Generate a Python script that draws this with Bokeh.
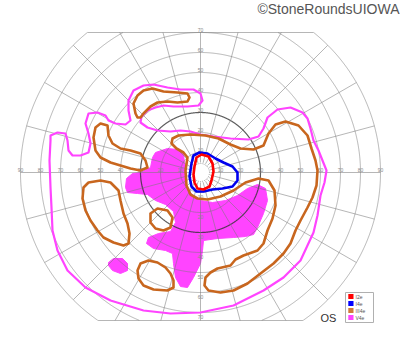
import numpy as np
from bokeh.plotting import figure
from bokeh.models import Range1d, Label
from bokeh.embed import file_html
from bokeh.resources import INLINE
from bokeh.core.properties import value

# ---------------- data (degrees: horizontal, vertical eccentricity) ----------------
ring_degrees = [10, 20, 30, 40, 50, 60, 70, 80, 90]
vert_labels = [10, 20, 30, 40, 50, 60, 70]
meridian_step = 15
field_top = 70
field_bottom = -74

legend_names = ["I2e", "I4e", "III4e", "V4e"]
legend_colors = ["#ff0000", "#0000ff", "#d07a3a", "#ff44ff"]

# I2e isopter
i2e_x = [-3, -2, 0.5, 4, 6, 6.5, 5.5, 4.5, 1.5, -1.5, -3, -3.5]
i2e_y = [3, 7.5, 9, 8, 4.5, 0.5, -4, -7, -8.5, -8, -5, -1]

# I4e isopter
i4e_x = [-4.5, -3.5, -0.5, 3.5, 7.5, 11.5, 16, 18.5, 18.5, 16, 11, 6, 1.5, -2, -4.5, -5.5]
i4e_y = [4.5, 8.5, 10, 9.5, 7, 5, 3, 0, -4, -7, -8, -8.5, -9.5, -9.5, -7, -2]

# III4e isopters
iii4e_main_x = [-6.5, -7.5, -7, -5, -1.5, 3.5, 10, 16.5, 22.5, 29, 34, 37, 37.5, 36, 33.5, 31.5, 28.5,
                21.5, 17.5, 15, 8.5, 5, 2.5, 2, 4, 10, 16.5, 23.5, 30, 36.5, 41.5, 45, 47.5, 50, 53.5,
                56, 58, 58.5, 57.5, 55.5, 53.5, 49, 42.5, 37.5, 34, 31.5, 26.5, 20, 15, 9, 2.5, -5,
                -11, -14, -14.5, -12, -8.5]
iii4e_main_y = [7.5, 1, -6.5, -11, -13, -13.5, -12, -9, -5, -3, -4, -9, -16.5, -23, -29, -35.5, -39,
                -41.5, -43.5, -46.5, -48, -50, -52.5, -56.5, -59, -60, -59, -55.5, -50.5, -45.5, -40.5,
                -35.5, -29, -24, -17.5, -12.5, -6.5, 1, 6, 12, 18.5, 23.5, 25.5, 24, 19.5, 13.5, 11.5,
                12, 14, 17, 18.5, 19, 18.5, 17, 14.5, 12, 10]
iii4e_top_x = [-32.5, -33.5, -31.5, -28.5, -24, -18.5, -11.5, -6.5, -5.5, -6.5, -11.5, -16.5, -21.5,
               -25, -28.5, -30, -31.5]
iii4e_top_y = [29.5, 34.5, 38.5, 41, 42, 40.5, 40, 39.5, 37.5, 35.5, 35, 35.5, 35, 33, 29.5, 27.5, 27.5]
iii4e_upleft_x = [-52.5, -50, -46.5, -46, -44, -40, -35, -30, -27.5, -26.5, -30, -35, -40, -45, -50,
                  -52.5, -53.5]
iii4e_upleft_y = [22.5, 24.5, 23.5, 18.5, 14.5, 12, 11, 9.5, 6, 2.5, 1, 2, 3.5, 5, 7.5, 11, 17.5]
iii4e_lowleft_x = [-58.5, -56, -50, -45, -41, -40, -38.5, -36.5, -35.5, -36, -38.5, -43.5, -48.5,
                   -51.5, -55, -57.5, -59]
iii4e_lowleft_y = [-7.5, -5, -4, -5, -9, -14, -20.5, -25.5, -30.5, -35.5, -36.5, -35, -32.5, -29, -24,
                   -19, -13]
iii4e_small_x = [-25, -21.5, -16.5, -14, -15, -18.5, -22.5, -25]
iii4e_small_y = [-20.5, -18, -19, -22.5, -27.5, -29, -28, -25]
iii4e_bottom_x = [-31.5, -30, -26, -21.5, -17.5, -15, -13.5, -13.5, -16.5, -23.5, -28.5, -31]
iii4e_bottom_y = [-49, -45.5, -44, -45, -47.5, -50.5, -54, -57.5, -59, -58.5, -56.5, -53]

# V4e isopter
v4e_x = [-74, -74.5, -75, -75.5, -75, -75, -71.5, -67.5, -66.5, -66, -64, -60, -56, -55, -56, -57.5,
         -56, -51.5, -47.5, -46, -42.5, -37.5, -35, -36, -36, -33.5, -28.5, -23.5, -16.5, -10, -3.5,
         0, 1, -1, -6.5, -13.5, -18.5, -22.5, -26.5, -29.5, -30, -26.5, -21.5, -15, -10, -5, 0, 6.5,
         15, 24, 29, 31.5, 33.5, 38.5, 45, 51, 53.5, 55, 56.5, 59, 61, 63, 62, 60, 58.5, 56.5, 50,
         41.5, 31.5, 16.5, 0, -15, -28.5, -45, -57.5, -66.5, -71.5]
v4e_y = [-29, -17.5, -7.5, 6, 16, 18.5, 20, 19.5, 16, 11, 8.5, 8.5, 10, 14.5, 19.5, 24.5, 29.5, 30,
         28.5, 26, 24.5, 24, 26, 31, 36, 41, 43.5, 44, 42.5, 41.5, 41.5, 39.5, 36, 33.5, 33, 33, 33.5,
         32.5, 31, 28, 25, 22.5, 21, 20.5, 21, 20.5, 19, 18, 17, 16.5, 18, 22, 27.5, 31.5, 32.5, 30,
         27, 22, 16, 11, 6, 1, -5, -11.5, -21.5, -30, -44, -52.5, -59, -66.5, -70, -70.5, -69, -64,
         -57.5, -49, -39]

# V4e scotomas (filled)
v4e_scot_x = [-22.5, -16.5, -11.5, -8.5, -8, -8, -7, -4, 0, 6, 12.5, 18.5, 23.5, 28.5, 32.5, 33.5,
              31.5, 28.5, 26.5, 22.5, 16.5, 8.5, 1.5, 1, 0, -3.5, -6.5, -10, -12.5, -13.5, -14, -17.5,
              -23.5, -27, -26, -21, -15, -12.5, -13.5, -17.5, -22.5, -26.5, -31.5, -36.5, -37.5, -37,
              -34, -30, -25, -24]
v4e_scot_y = [10, 12, 11.5, 9.5, 4.5, -1.5, -7, -11.5, -14, -15, -14, -11.5, -8, -6, -8, -14, -20.5,
              -27.5, -31, -32, -32.5, -33, -34, -39, -45.5, -52.5, -57.5, -57, -52.5, -45.5, -40.5,
              -39, -38, -35.5, -32.5, -30.5, -29.5, -25, -19.5, -16, -14, -11, -10.5, -10, -7.5, -3,
              -0.5, 0, 2.5, 7.5]
v4e_blob_x = [-46, -43.5, -39, -36.5, -36.5, -40, -44, -46]
v4e_blob_y = [-45, -43, -43, -45.5, -49, -50.5, -49, -46.5]

# ---------------- figure ----------------
p = figure(width=400, height=352, x_range=Range1d(-100, 100), y_range=Range1d(-90, 86),
           output_backend="svg", toolbar_location=None, min_border=0,
           x_axis_location=None, y_axis_location=None)
p.xgrid.visible = False
p.ygrid.visible = False
p.outline_line_color = None
p.background_fill_color = "white"
p.border_fill_color = "white"

MAG = "#ff44ff"
ORANGE = "#c8661e"


def closed(xs, ys):
    return list(xs) + [xs[0]], list(ys) + [ys[0]]


# filled scotomas first
p.patch(v4e_scot_x, v4e_scot_y, fill_color=MAG, line_color=MAG, line_width=1)
p.patch(v4e_blob_x, v4e_blob_y, fill_color=MAG, line_color=MAG, line_width=1)

# grid rings
t = np.linspace(0, 2 * np.pi, 1441)
rmax = ring_degrees[-1]
for r in ring_degrees:
    x = r * np.cos(t)
    y = r * np.sin(t)
    m = (y > field_top) | (y < field_bottom)
    x = np.where(m, np.nan, x)
    y = np.where(m, np.nan, y)
    if r == 30:
        p.line(x, y, line_color="#333333", line_width=1.2, line_alpha=0.8)
    else:
        p.line(x, y, line_color="#7a7a7a", line_width=1, line_alpha=0.55)

# small central ring
p.line(4.5 * np.cos(t), 4.5 * np.sin(t), line_color="#9a9a9a", line_width=1, line_dash="1 1")

# meridians
for a in range(0, 360, meridian_step):
    th = np.radians(a)
    s = np.sin(th)
    rm = rmax
    if s > 1e-9:
        rm = min(rm, field_top / s)
    elif s < -1e-9:
        rm = min(rm, field_bottom / s)
    p.line([5 * np.cos(th), rm * np.cos(th)], [5 * np.sin(th), rm * np.sin(th)],
           line_color="#7a7a7a", line_width=1, line_alpha=0.55)

# top/bottom borders
for yb in (field_top, field_bottom):
    xb = np.sqrt(rmax ** 2 - yb ** 2)
    p.line([-xb, xb], [yb, yb], line_color="#7a7a7a", line_width=1, line_alpha=0.55)

# tick labels
lab_x, lab_y, lab_t = [], [], []
for r in ring_degrees:
    for sgn in (-1, 1):
        lab_x.append(sgn * r)
        lab_y.append(1.5)
        lab_t.append(str(r))
for r in vert_labels:
    lab_x.append(0); lab_y.append(r + 1.5); lab_t.append(str(r))
    lab_x.append(0); lab_y.append(-r - 2); lab_t.append(str(r))
p.text(lab_x, lab_y, text=lab_t, text_font=value("Liberation Sans"), text_font_size="5px",
       text_color="#8a8a8a", text_align="center", text_baseline="middle")

# isopters
lw = 2.6
for xs, ys, c, w in [
    (v4e_x, v4e_y, MAG, 2.2),
    (iii4e_main_x, iii4e_main_y, ORANGE, lw),
    (iii4e_top_x, iii4e_top_y, ORANGE, lw),
    (iii4e_upleft_x, iii4e_upleft_y, ORANGE, lw),
    (iii4e_lowleft_x, iii4e_lowleft_y, ORANGE, lw),
    (iii4e_small_x, iii4e_small_y, ORANGE, lw),
    (iii4e_bottom_x, iii4e_bottom_y, ORANGE, lw),
    (i4e_x, i4e_y, "#0000ee", lw),
    (i2e_x, i2e_y, "#ff0000", lw),
]:
    cx, cy = closed(xs, ys)
    p.line(cx, cy, line_color=c, line_width=w, line_join="round", line_cap="round")

# legend box
p.quad(left=[72.5], right=[86.5], top=[-60], bottom=[-75], fill_color="white",
       line_color="#b0b0b0", line_width=1)
ly = [-62, -65.5, -69, -72.5]
p.rect(x=[75.2] * 4, y=ly, width=2.6, height=2.6, fill_color=legend_colors, line_color=None)
p.text(x=[77.5] * 4, y=ly, text=legend_names, text_font=value("Liberation Sans"),
       text_font_size="5px", text_color="#555555", text_baseline="middle", text_align="left")

p.add_layout(Label(x=64, y=-72.5, text="OS", text_font="Liberation Sans", text_font_size="11px",
                   text_color="#333333", text_align="center", text_baseline="middle"))
p.add_layout(Label(x=99.5, y=82, text="©StoneRoundsUIOWA", text_font="Liberation Sans",
                   text_font_size="14px", text_color="#555555", text_align="right",
                   text_baseline="middle"))

open("out.html", "w").write(file_html(p, INLINE))
